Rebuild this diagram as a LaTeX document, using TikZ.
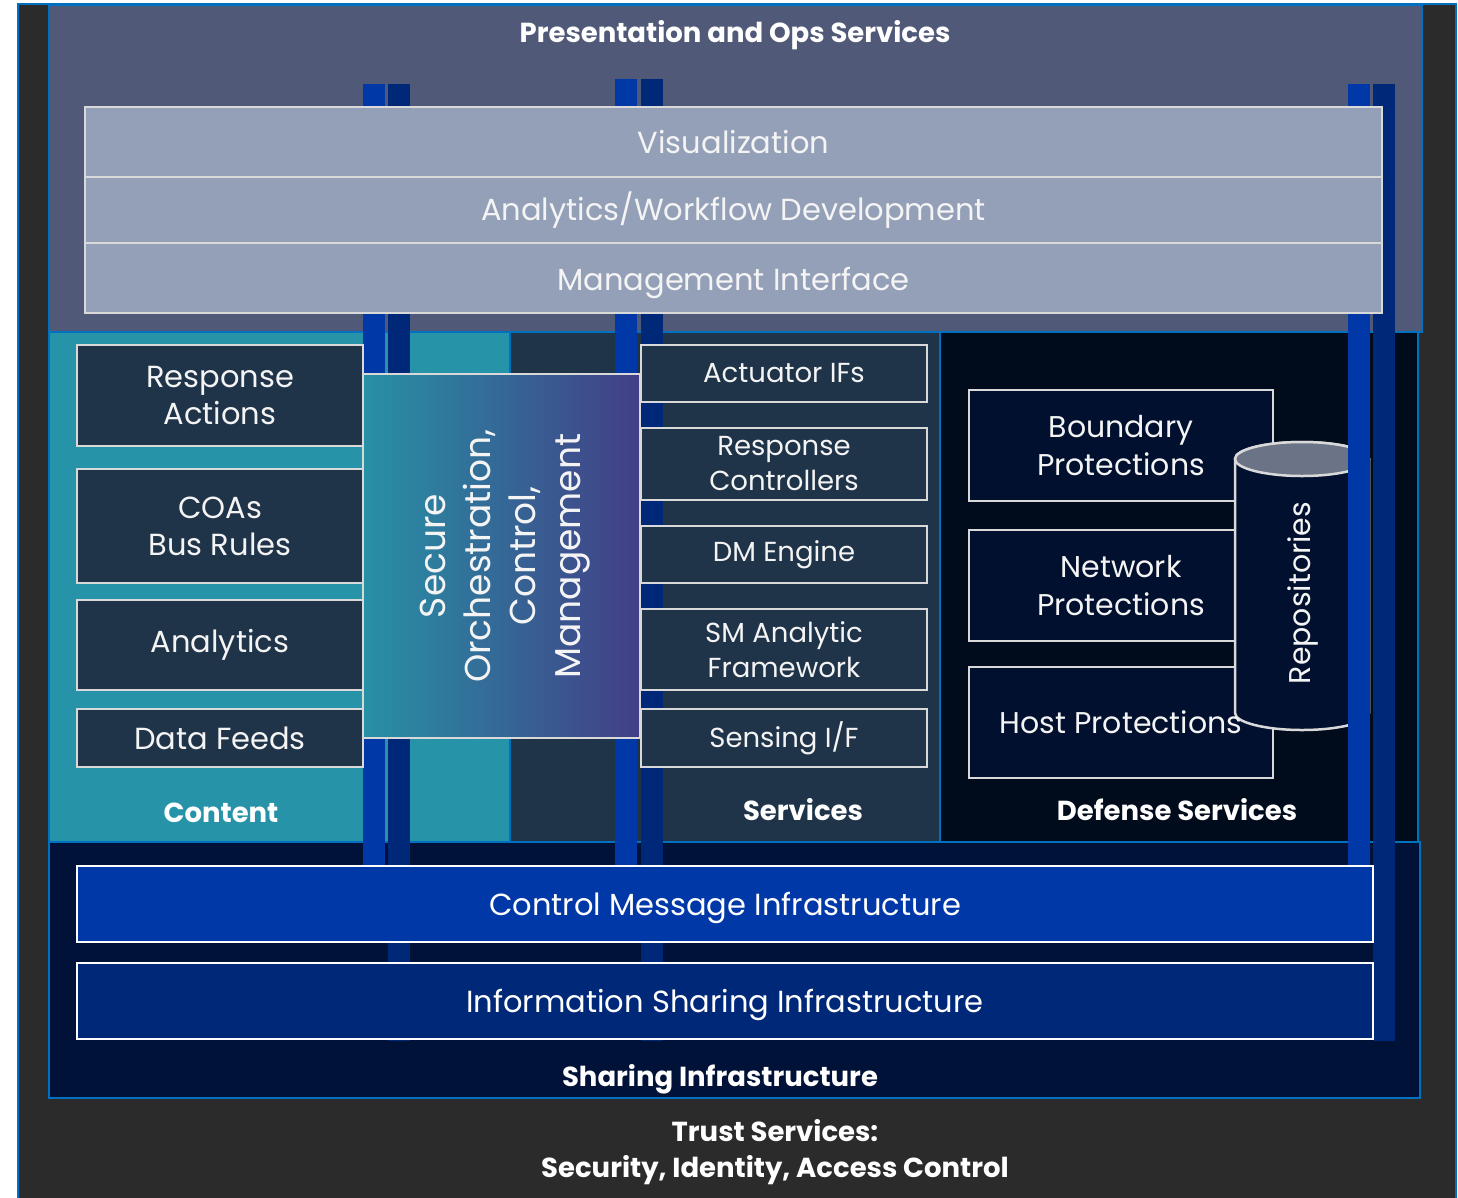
\documentclass[tikz,border=0pt]{standalone}
\usepackage{fontspec}
\setmainfont{Poppins}
\usetikzlibrary{shapes.geometric}

\definecolor{framegray}{HTML}{2B2B2B}
\definecolor{edgeblue}{HTML}{0070C0}
\definecolor{presfill}{HTML}{505A78}
\definecolor{rowfill}{HTML}{94A0B8}
\definecolor{rowline}{HTML}{D9D9D9}
\definecolor{barbright}{HTML}{0038A8}
\definecolor{bardark}{HTML}{002878}
\definecolor{contentfill}{HTML}{2793A8}
\definecolor{servfill}{HTML}{1F3349}
\definecolor{deffill}{HTML}{000B1C}
\definecolor{defbox}{HTML}{00102E}
\definecolor{sharefill}{HTML}{001238}
\definecolor{orchleft}{HTML}{2791A6}
\definecolor{orchright}{HTML}{433E86}
\definecolor{cyltop}{HTML}{6B7386}
\definecolor{softwhite}{HTML}{F4F4F4}

% box with corners (x1,y1) and (x2,y2), given in pixel units
\newcommand\blk[7]{\node[#6, minimum width={(#4-#2)*1pt}, minimum height={(#5-#3)*1pt}]
  (#1) at ({(#2+#4)/2},{(#3+#5)/2}) {#7};}
% text lowered onto a fixed baseline inside its box
\newcommand\lowtext[2]{\raisebox{-#1pt}[0pt][0pt]{#2}}

\begin{document}
\begin{tikzpicture}[x=1pt,y=-1pt,
  every node/.style={inner sep=0pt, outer sep=0pt},
  panel/.style={rectangle, draw=edgeblue, line width=2pt},
  rowbox/.style={rectangle, fill=rowfill, draw=rowline, line width=2.5pt, text=softwhite, font=\fontsize{30.5}{36}\selectfont},
  bar/.style={rectangle, fill=#1},
  darkbox/.style={rectangle, fill=servfill, draw=rowline, line width=2.5pt, text=softwhite, align=center},
  defbx/.style={rectangle, fill=defbox, draw=rowline, line width=2.5pt, text=softwhite, align=center, font=\fontsize{30}{38}\selectfont},
  infra/.style={rectangle, draw=white, line width=2.5pt, text=white, font=\fontsize{30.5}{36}\selectfont},
  ctext/.style={font=\fontsize{30.5}{37}\selectfont},
  stext/.style={font=\fontsize{27.5}{35}\selectfont},
  label/.style={text=white, font=\bfseries\fontsize{27.5}{36}\selectfont, align=center},
]
\useasboundingbox (0,0) rectangle (1458,1197);
\fill[white] (0,0) rectangle (1458,1197);

% outer frame and service panels
\blk{frame}{18}{4}{1456}{1205}{rectangle, fill=framegray, draw=edgeblue, line width=1.5pt}{}
\blk{pres}{49}{5}{1422}{332}{panel, fill=presfill}{}
\blk{content}{49}{332}{510}{842}{panel, fill=contentfill}{}
\blk{serv}{510}{332}{940}{842}{panel, fill=servfill}{}
\blk{defense}{940}{332}{1418}{842}{panel, fill=deffill}{}
\blk{share}{49}{842}{1420}{1098}{panel, fill=sharefill}{}

% defense services with the repository
\blk{bound}{969}{390}{1273}{501}{defbx}{Boundary\\Protections}
\blk{netp}{969}{530}{1273}{641}{defbx}{Network\\Protections}
\blk{hostp}{969}{667}{1273}{778}{defbx}{}
\coordinate (cylL) at (1235,459);
\coordinate (cylR) at (1369,459);
\filldraw[fill=defbox, draw=rowline, line width=2.5pt]
  (cylL) -- (1235,713) arc[start angle=180, end angle=360, x radius=67pt, y radius=17pt]
  -- (cylR) arc[start angle=0, end angle=180, x radius=67pt, y radius=17pt] -- cycle;
\filldraw[fill=cyltop, draw=rowline, line width=2.5pt] (1302,459) ellipse[x radius=67pt, y radius=17pt];
\node[text=softwhite, font=\fontsize{30}{38}\selectfont] (hosttxt) at (hostp.center) {Host Protections};
\node[rotate=90, text=softwhite, font=\fontsize{30}{38}\selectfont] (repo) at (1303,593) {Repositories};

% vertical message bars
\blk{barA}{363}{84}{385}{866}{bar=barbright}{}
\blk{barB}{388}{84}{410}{1041}{bar=bardark}{}
\blk{barC}{615}{79}{637}{866}{bar=barbright}{}
\blk{barD}{641}{79}{663}{1041}{bar=bardark}{}
\blk{barE}{1348}{84}{1370}{866}{bar=barbright}{}
\blk{barF}{1373}{84}{1395}{1041}{bar=bardark}{}

% presentation rows
\blk{vis}{85}{107}{1382}{177}{rowbox}{Visualization}
\blk{awd}{85}{177}{1382}{243}{rowbox}{Analytics/Workflow Development}
\blk{mgmt}{85}{243}{1382}{313}{rowbox}{\lowtext{12}{Management Interface}}

% content column
\blk{resp}{77}{345}{363}{446}{darkbox, ctext}{Response\\Actions}
\blk{coas}{77}{469}{363}{583}{darkbox, ctext}{COAs\\Bus Rules}
\blk{anal}{77}{600}{363}{690}{darkbox, ctext}{Analytics}
\blk{feeds}{77}{709}{363}{767}{darkbox, ctext}{Data Feeds}

% orchestration block
\blk{orch}{363}{374}{640}{738}{rectangle, left color=orchleft, right color=orchright, draw=rowline, line width=2.5pt}{}
\node[rotate=90, text=softwhite, align=center, font=\fontsize{36}{45}\selectfont] (orchtxt) at (505,556)
  {Secure\\Orchestration,\\Control,\\Management};

% services column
\blk{act}{641}{345}{927}{402}{darkbox, stext}{Actuator IFs}
\blk{rctl}{641}{428}{927}{500}{darkbox, stext}{Response\\Controllers}
\blk{dme}{641}{526}{927}{583}{darkbox, stext}{DM Engine}
\blk{sma}{641}{609}{927}{690}{darkbox, stext}{SM Analytic\\Framework}
\blk{sens}{641}{709}{927}{767}{darkbox, stext}{Sensing I/F}

% sharing infrastructure
\blk{cmi}{77}{866}{1373}{942}{infra, fill=barbright}{\lowtext{11}{Control Message Infrastructure}}
\blk{isi}{77}{963}{1373}{1039}{infra, fill=bardark}{\lowtext{11}{Information Sharing Infrastructure}}

% panel titles
\node[label] (tpres) at (735,35) {Presentation and Ops Services};
\node[label] (tcont) at (221,813) {Content};
\node[label] (tserv) at (803,810) {Services};
\node[label] (tdef) at (1177,810) {Defense Services};
\node[label] (tshare) at (720,1079) {Sharing Infrastructure};
\node[label] (ttrust) at (775,1152) {Trust Services:\\Security, Identity, Access Control};
\end{tikzpicture}
\end{document}
